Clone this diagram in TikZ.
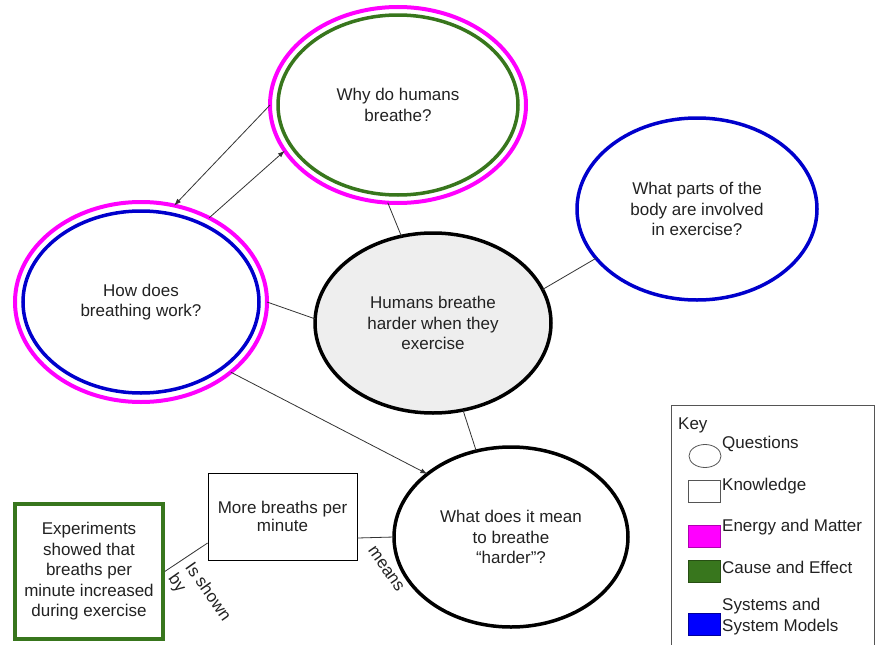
\documentclass[tikz,border=0pt]{standalone}
\usepackage{fontspec}
\setmainfont{Liberation Sans}
\usetikzlibrary{shapes.geometric,arrows.meta}
\definecolor{mag}{HTML}{FF00FF}
\definecolor{magdark}{HTML}{B000B0}
\definecolor{cegreen}{HTML}{38761D}
\definecolor{cegreendark}{HTML}{274E13}
\definecolor{sysblue}{HTML}{0000CC}
\definecolor{keyblue}{HTML}{0000FF}
\definecolor{keybluedark}{HTML}{00009A}
\definecolor{txt}{HTML}{222222}
\definecolor{conn}{HTML}{333333}
\definecolor{keygray}{HTML}{555555}
\definecolor{mainfill}{HTML}{EEEEEE}
\tikzset{
  lbl/.style={font=\fontsize{17}{20.5}\selectfont, text=txt, align=center},
  q/.style={ellipse, inner sep=0pt, outer sep=0pt, lbl},
  link/.style={draw=conn, line width=0.8pt},
  arr/.style={link, -{Latex[length=7pt,width=5pt]}},
  keytxt/.style={lbl, align=left, inner sep=0pt, anchor=west},
  keybox/.style={rectangle, minimum width=32pt, minimum height=22pt, inner sep=0pt, line width=0.8pt},
}
\begin{document}
\begin{tikzpicture}[x=1pt,y=-1pt]
\useasboundingbox[fill=white] (0,0) rectangle (876,645);

% question ellipses
\node[q, draw=mag, line width=4pt, minimum width=256pt, minimum height=196pt] (why) at (398,105) {Why do humans\\breathe?};
\node[q, draw=cegreen, line width=3.5pt, minimum width=240pt, minimum height=180pt] (whyin) at (why.center) {};

\node[q, draw=mag, line width=4pt, minimum width=252pt, minimum height=200pt] (how) at (141,302) {How does\\breathing work?};
\node[q, draw=sysblue, line width=3.5pt, minimum width=236pt, minimum height=182pt] (howin) at (how.center) {};

\node[q, draw=black, fill=mainfill, line width=3.5pt, minimum width=236pt, minimum height=180pt] (main) at (433,323) {Humans breathe\\harder when they\\exercise};

\node[q, draw=sysblue, line width=3.5pt, minimum width=240pt, minimum height=182pt] (parts) at (697,209) {What parts of the\\body are involved\\in exercise?};

\node[q, draw=black, line width=3.5pt, minimum width=234pt, minimum height=180pt] (harder) at (511,537) {What does it mean\\to breathe\\“harder”?};

% knowledge boxes
\node[rectangle, draw=black, line width=0.8pt, minimum width=149pt, minimum height=87pt, inner sep=0pt, lbl, font=\fontsize{17}{18.5}\selectfont] (more) at (282.5,516.5) {More breaths per\\minute};
\node[rectangle, draw=cegreen, line width=3.5pt, minimum width=148pt, minimum height=135pt, inner sep=0pt, lbl] (exp) at (89,571.5) {Experiments\\showed that\\breaths per\\minute increased\\during exercise};

% connectors
\draw[arr] (why.180) -- (how.71);
\draw[arr] (how.51) -- (why.202);
\draw[link] (why.264) -- (main.110);
\draw[link] (how.0) -- (main.178);
\draw[arr] (how.322) -- (harder.143);
\draw[link] (main.289) -- (harder.112);
\draw[link] (parts.206) -- (main.17);
\draw[link] ([yshift=-21.5pt]more.east) -- (harder.180);
\draw[link] (exp.east) -- ([yshift=-26.5pt]more.west);

% connector labels
\node[lbl, rotate=-55] (lmeans) at (386,569) {means};
\node[lbl, rotate=-55, align=left] (lshown) at (199,598) {Is shown\\by};

% key
\node[rectangle, draw=keygray, line width=0.8pt, minimum width=203pt, minimum height=250pt, anchor=north west, inner sep=0pt] (key) at (671,405) {};
\node[keytxt] (keyt) at (678,425) {Key};
\node[ellipse, draw=keygray, line width=0.8pt, minimum width=32pt, minimum height=23pt, inner sep=0pt] (kq) at (705,456) {};
\node[keytxt] (kqt) at (722,444) {Questions};
\node[keybox, draw=keygray] (kk) at (704,491) {};
\node[keytxt] (kkt) at (722,486) {Knowledge};
\node[keybox, fill=mag, draw=magdark] (ke) at (704,536) {};
\node[keytxt] (ket) at (722,527) {Energy and Matter};
\node[keybox, fill=cegreen, draw=cegreendark] (kc) at (704,571.5) {};
\node[keytxt] (kct) at (722,567) {Cause and Effect};
\node[keybox, fill=keyblue, draw=keybluedark] (ks) at (704,624) {};
\node[keytxt] (kst) at (722,616.5) {Systems and\\System Models};
\end{tikzpicture}
\end{document}
